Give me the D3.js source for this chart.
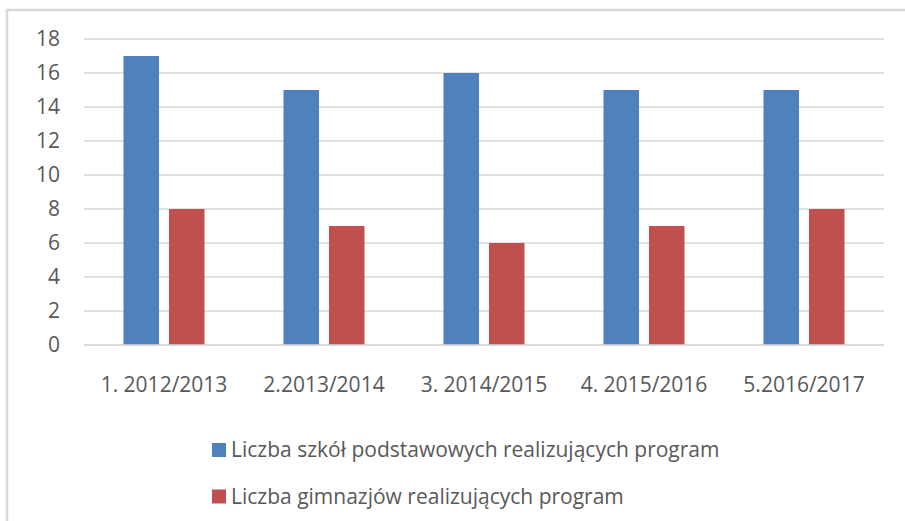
<!DOCTYPE html>
<html><head><meta charset="utf-8">
<script src="https://cdn.jsdelivr.net/npm/d3@7"></script>
<style>
html,body{margin:0;padding:0;background:#fff;}
svg{display:block;font-family:"Open Sans",sans-serif;}
</style></head>
<body><svg id="chart" width="905" height="521"></svg>
<script>
const categories = ["1. 2012/2013", "2.2013/2014", "3. 2014/2015", "4. 2015/2016", "5.2016/2017"];
const seriesNames = ["Liczba szkół podstawowych realizujących program", "Liczba gimnazjów realizujących program"];
const seriesColors = ["#4F81BD", "#C0504D"];
const primarySchools = [17, 15, 16, 15, 15];
const gymnasiums = [8, 7, 6, 7, 8];
const yTicks = [0, 2, 4, 6, 8, 10, 12, 14, 16, 18];

const seriesValues = [primarySchools, gymnasiums];
const svg = d3.select("#chart");
const textColor = "#595959";

// outer frame
svg.append("path").attr("d", "M7,530 V10 H910").attr("fill", "none").attr("stroke", "#D9D9D9").attr("stroke-width", 2.5);

const x0 = d3.scaleBand().domain(categories).range([84, 884]).paddingInner(0).paddingOuter(0);
const x1 = d3.scaleBand().domain(d3.range(seriesNames.length)).range([-40.5, 40.5]).paddingInner(0.22).paddingOuter(0);
const y = d3.scaleLinear().domain([0, 18]).range([345, 39]);

// gridlines
svg.append("g").selectAll("line").data(yTicks).join("line")
  .attr("x1", 84).attr("x2", 884)
  .attr("y1", d => y(d)).attr("y2", d => y(d))
  .attr("stroke", "#D9D9D9").attr("stroke-width", 1.3);

// y labels
const yAxis = svg.append("g").attr("transform", "translate(60,0)")
  .call(d3.axisLeft(y).tickValues(yTicks).tickSize(0).tickPadding(0));
yAxis.select(".domain").remove();
yAxis.selectAll("text").attr("font-size", 21).attr("fill", textColor).attr("font-family", "Open Sans");

// bars
const groups = svg.append("g").selectAll("g").data(categories).join("g")
  .attr("transform", d => `translate(${x0(d) + x0.bandwidth() / 2},0)`);
groups.selectAll("rect").data((c, i) => seriesValues.map((s, k) => ({k, v: s[i]}))).join("rect")
  .attr("x", d => x1(d.k)).attr("width", x1.bandwidth())
  .attr("y", d => y(d.v)).attr("height", d => y(0) - y(d.v))
  .attr("fill", d => seriesColors[d.k]);

// baseline
svg.append("line").attr("x1", 84).attr("x2", 884).attr("y1", y(0)).attr("y2", y(0))
  .attr("stroke", "#D9D9D9").attr("stroke-width", 1.5);

// x labels
const xAxis = svg.append("g").attr("transform", "translate(0,377)")
  .call(d3.axisBottom(x0).tickSize(0).tickPadding(0));
xAxis.select(".domain").remove();
xAxis.selectAll("text").attr("font-size", 21).attr("fill", textColor).attr("font-family", "Open Sans").attr("dy", "0.71em");

// legend
const legend = svg.append("g").selectAll("g").data(seriesNames).join("g")
  .attr("transform", (d, i) => `translate(212,${443 + i * 46.5})`);
legend.append("rect").attr("width", 14).attr("height", 14).attr("fill", (d, i) => seriesColors[i]);
legend.append("text").attr("x", 19).attr("y", 7).attr("dy", "0.35em")
  .attr("font-size", 21).attr("fill", textColor).text(d => d);
</script></body></html>
